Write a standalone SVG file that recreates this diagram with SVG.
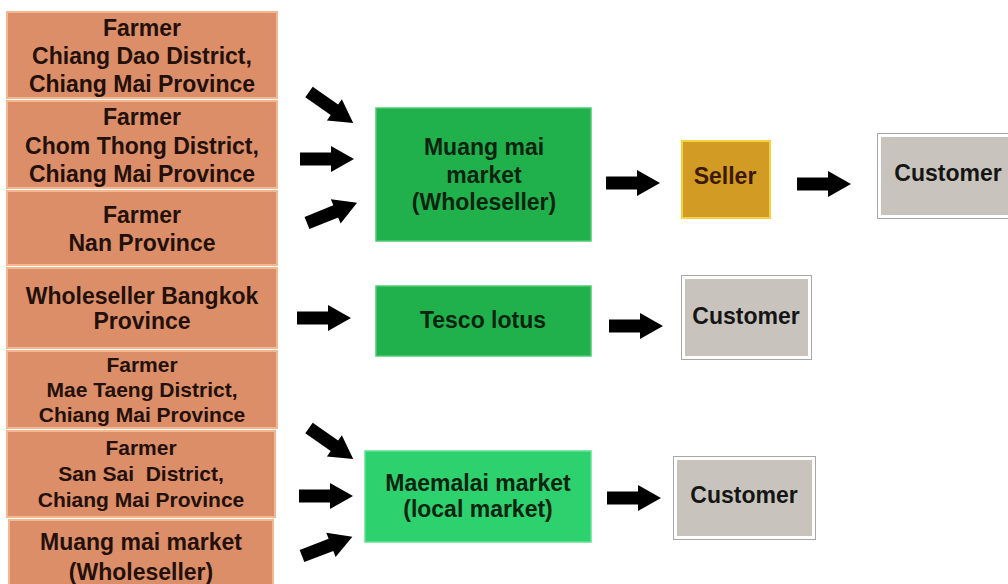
<svg xmlns="http://www.w3.org/2000/svg" xmlns:xlink="http://www.w3.org/1999/xlink" width="1008" height="584" viewBox="0 0 1008 584">
<style>
text{font-family:"Liberation Sans",Arial,sans-serif;font-weight:bold;text-anchor:middle;}
.src{fill:#DB8E68;stroke:#F3B792;stroke-width:2;}
.srct{font-size:23px;fill:#24100a;}
.srcs{font-size:21px;fill:#24100a;}
.g1{fill:#21B14C;stroke:#4CCB72;stroke-width:1.5;}
.g2{fill:#2DD16E;stroke:#62E293;stroke-width:1.5;}
.gt{font-size:23px;fill:#0a2410;}
.sel{fill:#D29B24;stroke:#F3D23E;stroke-width:2;}
.selt{font-size:23px;fill:#3a1a00;}
.cuo{fill:none;stroke:#A9A7A3;stroke-width:1;}
.cu{fill:#C8C4BD;stroke:#FFFFFF;stroke-width:3;}
.cut{font-size:23px;fill:#151515;}
.arr{fill:#000;}
</style>
<defs>
<path id="arrow" class="arr" d="M0,-6.5 H31 V-13 L54,0 L31,13 V6.5 H0 Z"/>
</defs>
<rect width="1008" height="584" fill="#FFFFFF"/>

<g id="farmer-chiang-dao">
<rect class="src" x="7" y="12" width="270" height="86"/>
<text class="srct" x="142" y="36">Farmer</text>
<text class="srct" x="142" y="64">Chiang Dao District,</text>
<text class="srct" x="142" y="92">Chiang Mai Province</text>
</g>
<g id="farmer-chom-thong">
<rect class="src" x="7" y="101" width="270" height="87"/>
<text class="srct" x="142" y="125">Farmer</text>
<text class="srct" x="142" y="154">Chom Thong District,</text>
<text class="srct" x="142" y="182">Chiang Mai Province</text>
</g>
<g id="farmer-nan">
<rect class="src" x="7" y="191" width="270" height="74"/>
<text class="srct" x="142" y="223">Farmer</text>
<text class="srct" x="142" y="251">Nan Province</text>
</g>
<g id="wholeseller-bangkok">
<rect class="src" x="7" y="268" width="270" height="80"/>
<text class="srct" x="142" y="304">Wholeseller Bangkok</text>
<text class="srct" x="142" y="329">Province</text>
</g>
<g id="farmer-mae-taeng">
<rect class="src" x="7" y="351" width="270" height="77"/>
<text class="srcs" x="142" y="372">Farmer</text>
<text class="srcs" x="142" y="397">Mae Taeng District,</text>
<text class="srcs" x="142" y="422">Chiang Mai Province</text>
</g>
<g id="farmer-san-sai">
<rect class="src" x="7" y="431" width="268" height="86"/>
<text class="srcs" x="141" y="455">Farmer</text>
<text class="srcs" x="141" y="481" xml:space="preserve">San Sai  District,</text>
<text class="srcs" x="141" y="507">Chiang Mai Province</text>
</g>
<g id="muang-mai-source">
<rect class="src" x="9" y="520" width="264" height="72"/>
<text class="srct" x="141" y="550">Muang mai market</text>
<text class="srct" x="141" y="580">(Wholeseller)</text>
</g>

<g id="muang-mai-market">
<rect class="g1" x="376" y="108" width="215" height="133"/>
<text class="gt" x="484" y="155">Muang mai</text>
<text class="gt" x="484" y="183">market</text>
<text class="gt" x="484" y="210">(Wholeseller)</text>
</g>
<g id="tesco-lotus">
<rect class="g1" x="376" y="286" width="215" height="70"/>
<text class="gt" x="483" y="328">Tesco lotus</text>
</g>
<g id="maemalai-market">
<rect class="g2" x="365" y="451" width="226" height="91"/>
<text class="gt" x="478" y="491">Maemalai market</text>
<text class="gt" x="478" y="517">(local market)</text>
</g>

<g id="seller">
<rect class="sel" x="682" y="141" width="88" height="77"/>
<text class="selt" x="725" y="184">Seller</text>
</g>
<g id="customer-1">
<rect class="cuo" x="877.5" y="133.5" width="140" height="85"/>
<rect class="cu" x="879.5" y="135.5" width="140" height="81"/>
<text class="cut" x="948" y="181">Customer</text>
</g>
<g id="customer-2">
<rect class="cuo" x="681.5" y="275.5" width="130" height="84"/>
<rect class="cu" x="683.5" y="277.5" width="126" height="80"/>
<text class="cut" x="746" y="324">Customer</text>
</g>
<g id="customer-3">
<rect class="cuo" x="673.5" y="456.5" width="142" height="83"/>
<rect class="cu" x="675.5" y="458.5" width="138" height="79"/>
<text class="cut" x="744" y="503">Customer</text>
</g>

<g id="connectors">
<use xlink:href="#arrow" href="#arrow" transform="translate(309,92) rotate(35)"/>
<use xlink:href="#arrow" href="#arrow" transform="translate(300,159)"/>
<use xlink:href="#arrow" href="#arrow" transform="translate(307,223) rotate(-22)"/>
<use xlink:href="#arrow" href="#arrow" transform="translate(297,318)"/>
<use xlink:href="#arrow" href="#arrow" transform="translate(309,428) rotate(35)"/>
<use xlink:href="#arrow" href="#arrow" transform="translate(299,496)"/>
<use xlink:href="#arrow" href="#arrow" transform="translate(302,556) rotate(-21)"/>
<use xlink:href="#arrow" href="#arrow" transform="translate(606,183)"/>
<use xlink:href="#arrow" href="#arrow" transform="translate(797,184)"/>
<use xlink:href="#arrow" href="#arrow" transform="translate(609,326)"/>
<use xlink:href="#arrow" href="#arrow" transform="translate(607,498)"/>
</g>
</svg>
